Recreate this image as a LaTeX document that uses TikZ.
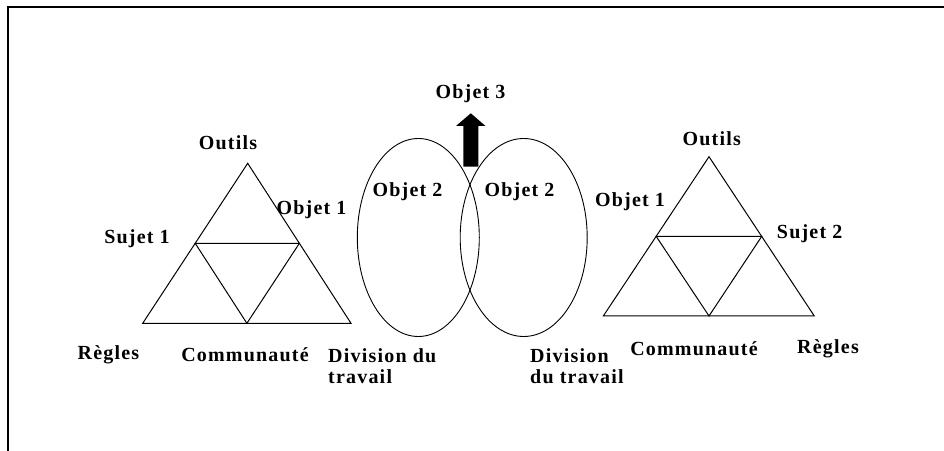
\documentclass[tikz,border=0pt]{standalone}
\usepackage{fontspec}
\setmainfont{Liberation Serif}[LetterSpace=6]
\usetikzlibrary{shapes.geometric}
\begin{document}
\begin{tikzpicture}[x=1bp,y=-1bp,
  lbl/.style={font=\fontsize{20bp}{22bp}\selectfont\bfseries, inner sep=0pt},
  lbll/.style={lbl, align=left, anchor=north west},
  tri/.style={line width=1bp, line join=miter},
  blob/.style={draw, line width=0.9bp, ellipse, inner sep=0pt},
  frame/.style={line width=1.6bp}]
\useasboundingbox (0,0) rectangle (944,451);
% frame
\coordinate (fl) at (8,451);
\coordinate (ftl) at (8,7);
\coordinate (ftr) at (944,7);
\draw[frame] (fl) -- (ftl) -- (ftr);
% left triangle
\coordinate (LA) at (247.7,163.3);
\coordinate (LL) at (142.7,323.3);
\coordinate (LR) at (351,323.3);
\coordinate (LML) at (195.2,243.3);
\coordinate (LMR) at (299.4,243.3);
\coordinate (LB) at (246.9,323.3);
\draw[tri] (LA) -- (LL) -- (LR) -- cycle;
\draw[tri] (LML) -- (LMR) -- (LB) -- cycle;
% right triangle
\coordinate (RA) at (709,156.7);
\coordinate (RL) at (603.3,316);
\coordinate (RR) at (814.3,316);
\coordinate (RML) at (656.2,236.4);
\coordinate (RMR) at (761.7,236.4);
\coordinate (RB) at (709,316);
\draw[tri] (RA) -- (RL) -- (RR) -- cycle;
\draw[tri] (RML) -- (RMR) -- (RB) -- cycle;
% ellipses
\node[blob, minimum width=122bp, minimum height=198bp] (e1) at (418.3,237.5) {};
\node[blob, minimum width=127bp, minimum height=198bp] (e2) at (523.7,237.5) {};
% arrow
\coordinate (ab) at (470.8,166.7);
\coordinate (at) at (470.8,113.3);
\fill (463.3,166.7) -- (478.3,166.7) -- (478.3,126) -- (485.5,126) -- (at) -- (456,126) -- (463.3,126) -- cycle;
% labels
\node[lbl] (o3) at (470.5,93.3) {Objet 3};
\node[lbl] (ol) at (228,143) {Outils};
\node[lbl] (obl) at (311.5,210) {Objet 1};
\node[lbl] (sl) at (137,239) {Sujet 1};
\node[lbl] (rl) at (108.5,355) {Règles};
\node[lbl] (cl) at (245,355) {Communauté};
\node[lbll] (dl) at (328,348) {Division du\\[-1bp]travail};
\node[lbl] (ob2a) at (407.5,191.7) {Objet 2};
\node[lbl] (ob2b) at (519.5,191.7) {Objet 2};
\node[lbll] (dr) at (530,348) {Division\\[-1bp]du travail};
\node[lbl] (or) at (711.7,138.3) {Outils};
\node[lbl] (obr) at (630,201.7) {Objet 1};
\node[lbl] (sr) at (809.7,233.3) {Sujet 2};
\node[lbl] (cr) at (694,348.3) {Communauté};
\node[lbl] (rr) at (828,348.3) {Règles};
\end{tikzpicture}
\end{document}
